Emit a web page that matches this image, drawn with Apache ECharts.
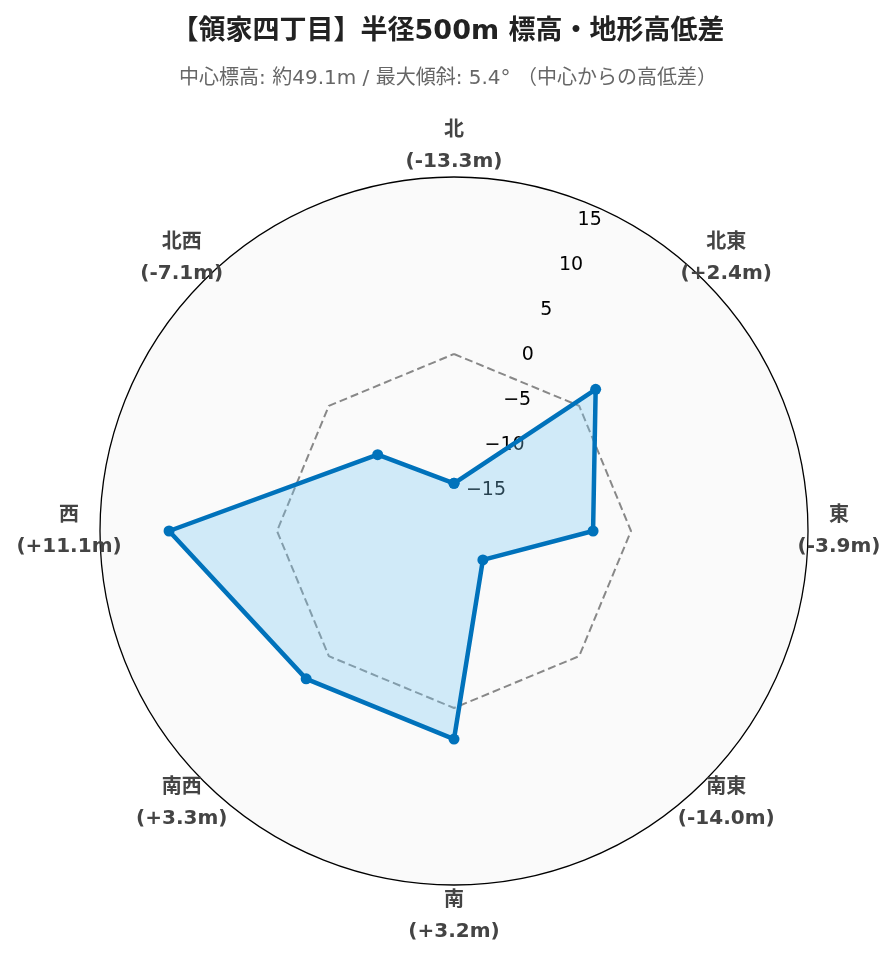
<!DOCTYPE html>
<html><head><meta charset="utf-8">
<script src="https://cdn.jsdelivr.net/npm/echarts@6/dist/echarts.min.js"></script>
<style>html,body{margin:0;padding:0;background:#fff}#c{width:896px;height:962px}</style>
</head><body><div id="c"></div>
<script>
const titleText = '【領家四丁目】半径500m 標高・地形高低差';
const subtitleText = '中心標高: 約49.1m / 最大傾斜: 5.4° （中心からの高低差）';
const directions = ['北', '北東', '東', '南東', '南', '南西', '西', '北西'];
const directionAngles = [0, 45, 90, 135, 180, 225, 270, 315];
const elevationDiffs = [-13.3, 2.4, -3.9, -14.0, 3.2, 3.3, 11.1, -7.1];
const referenceLevel = [0, 0, 0, 0, 0, 0, 0, 0];
const radialTicks = [-15, -10, -5, 0, 5, 10, 15];
const radialRange = [-18.2, 18.2];

const CENTER = [454, 531];
const RADIUS = 354;
const LABEL_GAP = 31;
const latinFont = "'DejaVu Sans', 'Noto Sans CJK JP', sans-serif";

function closed(values) {
  const pts = directionAngles.map((a, i) => [values[i], a]);
  pts.push([values[0], 360]);
  return pts;
}
function dirLabel(i) {
  const v = elevationDiffs[i];
  return directions[i] + '\n(' + (v > 0 ? '+' : '') + v.toFixed(1) + 'm)';
}

const chart = echarts.init(document.getElementById('c'), null, {renderer: 'canvas'});
chart.setOption({
  backgroundColor: '#ffffff',
  animation: false,
  title: {
    text: titleText,
    subtext: subtitleText,
    left: 'center',
    top: 13,
    itemGap: 24,
    textStyle: {fontFamily: latinFont, fontSize: 27, fontWeight: 'bold', color: '#222'},
    subtextStyle: {fontFamily: latinFont, fontSize: 20, color: '#666'}
  },
  polar: [
    {center: CENTER, radius: [0, RADIUS]},
    {center: CENTER, radius: [0, RADIUS]}
  ],
  angleAxis: [
    {
      polarIndex: 0, type: 'value', min: 0, max: 360, interval: 45,
      startAngle: 90, clockwise: true,
      axisLine: {show: true, lineStyle: {color: '#000', width: 1.3}},
      axisTick: {show: false},
      axisLabel: {show: false},
      splitLine: {show: true, lineStyle: {color: '#d2d2d2', type: [2, 3], width: 1}},
      splitArea: {show: true, areaStyle: {color: ['#fafafa']}}
    },
    {
      polarIndex: 1, type: 'value', min: 0, max: 360,
      startAngle: 67.5, clockwise: true, show: false
    }
  ],
  radiusAxis: [
    {
      polarIndex: 0, type: 'value', min: radialRange[0], max: radialRange[1],
      axisLine: {show: false},
      axisTick: {show: false, customValues: radialTicks},
      axisLabel: {show: false, customValues: radialTicks},
      splitLine: {show: true, lineStyle: {color: '#d2d2d2', type: [2, 3], width: 1}}
    },
    {
      polarIndex: 1, type: 'value', min: radialRange[0], max: radialRange[1],
      axisLine: {show: false},
      axisTick: {show: false, customValues: radialTicks},
      splitLine: {show: false},
      axisLabel: {
        show: true, customValues: radialTicks, margin: 0,
        align: 'left', verticalAlign: 'bottom', padding: [0, 0, 3, 0],
        fontFamily: latinFont, fontSize: 19, color: '#000',
        formatter: v => String(v).replace('-', '\u2212')
      }
    }
  ],
  series: [
    {
      type: 'line', coordinateSystem: 'polar', polarIndex: 0,
      data: closed(referenceLevel), symbol: 'none', silent: true,
      lineStyle: {color: '#888', width: 2, type: [8, 4]}, z: 2
    },
    {
      type: 'line', coordinateSystem: 'polar', polarIndex: 0,
      data: closed(elevationDiffs), symbol: 'circle', symbolSize: 11,
      lineStyle: {color: '#0072bb', width: 4.5},
      itemStyle: {color: '#0072bb'},
      areaStyle: {color: 'rgba(120,203,247,0.32)', opacity: 1, origin: 'start'}, z: 3
    },
    {
      type: 'scatter', coordinateSystem: 'polar', polarIndex: 0,
      symbolSize: 0, silent: true, z: 4,
      itemStyle: {opacity: 1},
      data: directionAngles.map((a, i) => ({
        value: [radialRange[1], a],
        label: {
          formatter: dirLabel(i),
          offset: [LABEL_GAP * Math.sin(a * Math.PI / 180), -LABEL_GAP * Math.cos(a * Math.PI / 180)]
        }
      })),
      label: {
        show: true, position: 'inside', align: 'center', verticalAlign: 'middle',
        fontFamily: latinFont, fontSize: 20, fontWeight: 'bold', color: '#444', lineHeight: 31
      }
    }
  ]
});
</script></body></html>
